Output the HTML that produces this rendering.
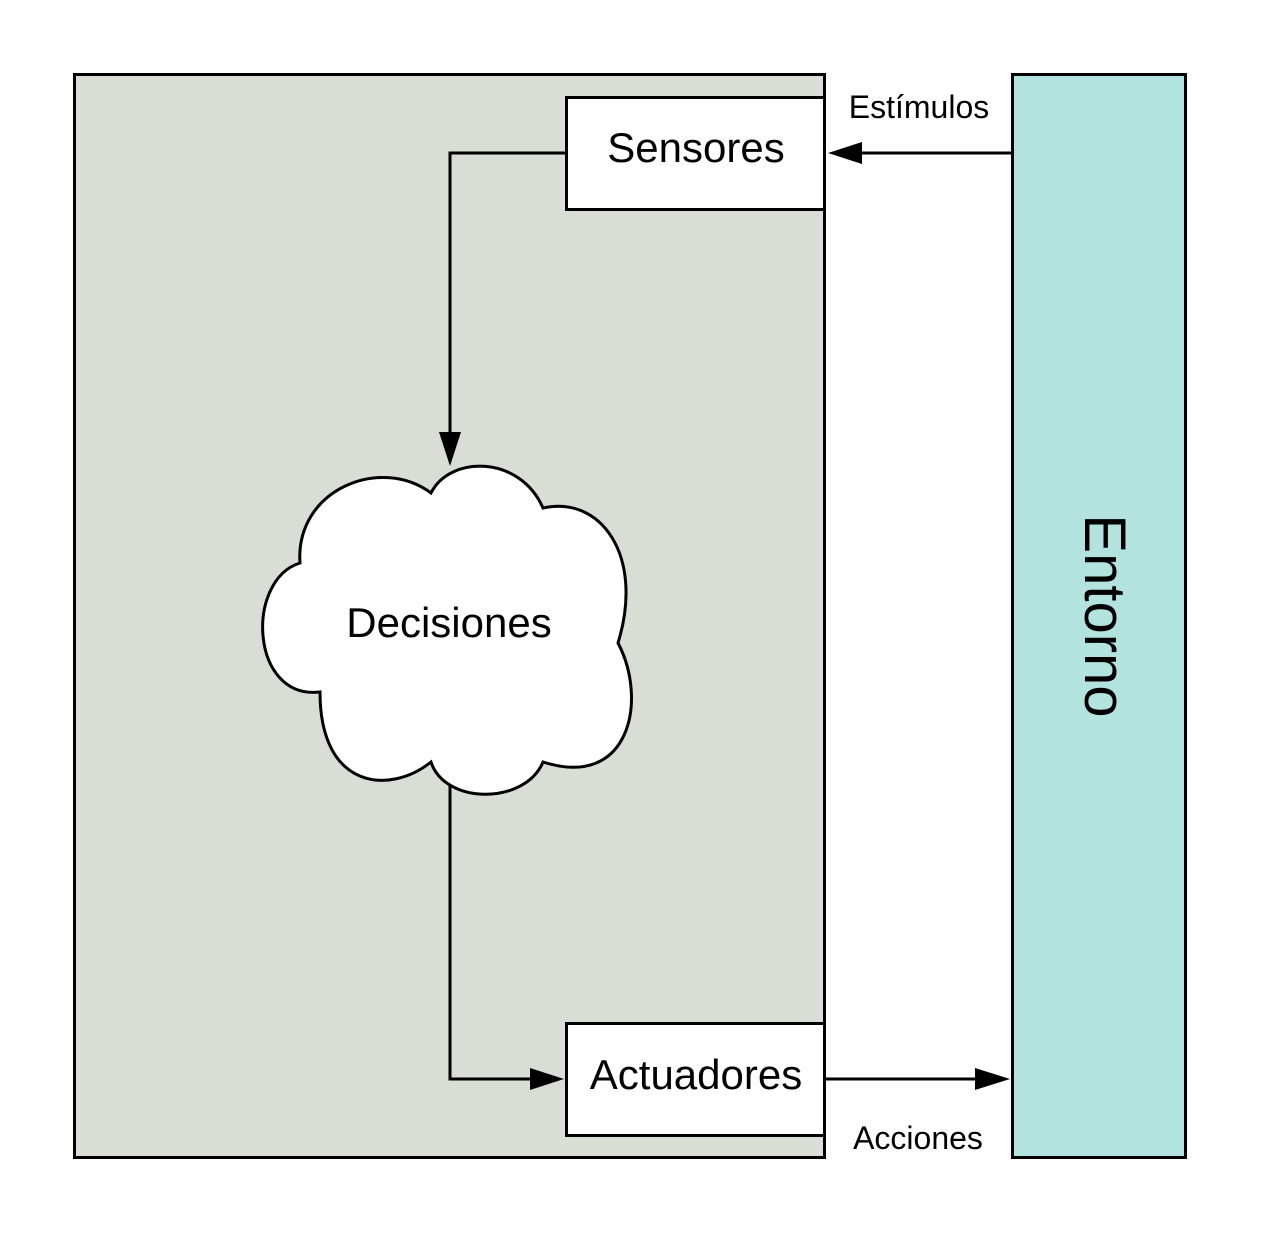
<!DOCTYPE html>
<html><head><meta charset="utf-8"><style>
html,body{margin:0;padding:0;background:#fff;}
svg{display:block;}
text{font-family:"Liberation Sans",sans-serif;fill:#000;}
</style></head><body>
<svg width="1262" height="1234" viewBox="0 0 1262 1234" xmlns="http://www.w3.org/2000/svg">
<rect x="74.5" y="74.5" width="750" height="1083" fill="#d8ddd6" stroke="#000" stroke-width="3"/>
<rect x="1012.5" y="74.5" width="173" height="1083" fill="#b2e3df" stroke="#000" stroke-width="3"/>
<rect x="566.5" y="97.5" width="258" height="112" fill="#fff" stroke="#000" stroke-width="3"/>
<rect x="566.5" y="1023.5" width="258" height="112" fill="#fff" stroke="#000" stroke-width="3"/>
<text x="696" y="162" font-size="42" text-anchor="middle">Sensores</text>
<text x="696" y="1089" font-size="42" text-anchor="middle">Actuadores</text>
<text x="919" y="118" font-size="32" text-anchor="middle">Estímulos</text>
<text x="918" y="1149" font-size="32" text-anchor="middle">Acciones</text>
<text transform="translate(1085,616) rotate(90)" font-size="58" text-anchor="middle">Entorno</text>
<line x1="1012" y1="153" x2="855" y2="153" stroke="#000" stroke-width="3"/>
<polygon points="828,153 862,142 862,164" fill="#000"/>
<polyline points="566,153 450,153 450,440" fill="none" stroke="#000" stroke-width="3"/>
<polygon points="450,466 439,432 461,432" fill="#000"/>
<polyline points="450,785 450,1079 535,1079" fill="none" stroke="#000" stroke-width="3"/>
<polygon points="564,1079 530,1068 530,1090" fill="#000"/>
<line x1="826" y1="1079" x2="980" y2="1079" stroke="#000" stroke-width="3"/>
<polygon points="1010,1079 975,1068 975,1090" fill="#000"/>
<path d="M431,493 C450,455 520,455 543,508 C600,495 645,555 618,643 C648,700 630,790 543,762 C525,805 445,805 431,762 C390,795 320,790 320,692 C250,700 245,580 300,563 C295,490 380,455 431,493 Z" fill="#fff" stroke="#000" stroke-width="3"/>
<text x="449" y="637" font-size="42" text-anchor="middle">Decisiones</text>
</svg>
</body></html>
